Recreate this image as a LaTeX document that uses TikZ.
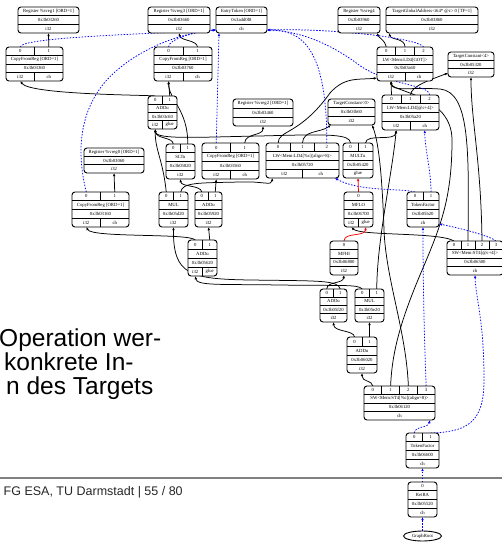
\documentclass[tikz,border=0pt]{standalone}
\usepackage{fontspec}
\usetikzlibrary{arrows.meta,calc,shapes.geometric}
\newfontfamily\gvfont{Liberation Serif}
\newfontfamily\slidefont{Liberation Sans}
\pgfdeclarelayer{edges}
\pgfsetlayers{edges,main}
\tikzset{
  recbox/.style={draw,line width=0.9pt,rounded corners=3pt,fill=white,inner sep=0pt,outer sep=0pt},
  recline/.style={line width=0.55pt},
  rectext/.style={inner sep=0pt,font=\gvfont\fontsize{4.7}{5}\selectfont},
  dataE/.style={line width=0.75pt,-{Latex[length=3.2pt,width=2.6pt]}},
  chainE/.style={dataE,blue,dash pattern=on 1.5pt off 1.5pt},
  glueE/.style={dataE,red},
  slidetext/.style={anchor=base west,inner sep=0pt,font=\slidefont\fontsize{24.5}{28}\selectfont}
}
\newcount\recCnt
\newcommand\rec[9]{%
  \pgfmathsetmacro\recW{#4-#2}%
  \pgfmathsetmacro\recH{#5-#3}%
  \ifnum#6>0 \def\recRows{4}\def\recLab{1}\else\def\recRows{3}\def\recLab{0}\fi
  \pgfmathsetmacro\recR{\recH/\recRows}%
  \pgfmathtruncatemacro\recRm{\recRows-1}%
  \node[recbox,minimum width=\recW pt,minimum height=\recH pt] (#1) at ({(#2+#4)/2},{(#3+#5)/2}) {};
  \foreach \j in {1,...,\recRm}{\draw[recline] (#2,{#3+\j*\recR}) -- (#4,{#3+\j*\recR});}
  \node[rectext] at ({(#2+#4)/2},{#3+(\recLab+0.5)*\recR}) {#7};
  \node[rectext] at ({(#2+#4)/2},{#3+(\recLab+1.5)*\recR}) {#8};
  \ifnum#6>0
    \pgfmathtruncatemacro\recNp{#6-1}%
    \foreach \i in {0,...,\recNp}{%
      \pgfmathsetmacro\recCx{#2+(\i+0.5)*\recW/#6}%
      \node[rectext] at (\recCx,{#3+0.5*\recR}) {\i};
      \coordinate (#1-p\i) at (\recCx,#3);
      \ifnum\i>0
        \pgfmathsetmacro\recSx{#2+\i*\recW/#6}%
        \draw[recline] (\recSx,#3) -- (\recSx,{#3+\recR});
      \fi
    }%
  \fi
  \global\recCnt=0
  \foreach \rtype in {#9}{\global\advance\recCnt by 1}%
  \edef\recNr{\the\recCnt}%
  \foreach \rtype [count=\k from 0] in {#9}{%
    \pgfmathsetmacro\recCx{#2+(\k+0.5)*\recW/\recNr}%
    \node[rectext] at (\recCx,{#5-0.5*\recR}) {\rtype};
    \coordinate (#1-r\k) at (\recCx,#5);
    \ifnum\k>0
      \pgfmathsetmacro\recSx{#2+\k*\recW/\recNr}%
      \draw[recline] (\recSx,{#5-\recR}) -- (\recSx,#5);
    \fi
  }%
}
\begin{document}
\begin{tikzpicture}[x=1pt,y=-1pt]
\useasboundingbox (0,0) rectangle (502,543);
\clip (0,0) rectangle (502,543);

% slide background content
\node[slidetext] (t1) at (-1,346) {Operation wer-};
\node[slidetext] (t2) at (4,370) {konkrete In-};
\node[slidetext] (t3) at (6,394) {n des Targets};
\node[anchor=west,inner sep=0pt,font=\slidefont\fontsize{12.5}{14}\selectfont,text=black!85] (foot) at (3.5,492) {FG ESA, TU Darmstadt | 55 / 80};

% graph nodes
\rec{R1}{18}{7}{79}{33}{0}{Register \%vreg1 [ORD=1]}{0x3b03260}{i32}
\rec{R3}{148}{7}{210}{33}{0}{Register \%vreg3 [ORD=1]}{0x3b03660}{i32}
\rec{ET}{216}{7}{267}{33}{0}{EntryToken [ORD=1]}{0x3add0f8}{ch}
\rec{R4}{338}{7}{380}{33}{0}{Register \%vreg4}{0x3b03960}{i32}
\rec{TGA}{386}{7}{478}{33}{0}{TargetGlobalAddress<i64* @c> 0 [TF=1]}{0x3b03860}{i32}
\rec{CFR1}{6}{47}{63}{81}{2}{CopyFromReg [ORD=1]}{0x3b03360}{i32,ch}
\rec{CFR3}{154}{47}{212}{81}{2}{CopyFromReg [ORD=1]}{0x3b03760}{i32,ch}
\rec{LWGOT}{377}{47}{433}{81}{3}{LW<Mem:LD4[GOT]>}{0x3b03a60}{i32,ch}
\rec{TCa}{448}{52}{494}{77}{0}{TargetConstant<4>}{0x3b05320}{i32}
\rec{ADDu1}{148}{96}{177}{129}{2}{ADDu}{0x3b03c60}{i32,glue}
\rec{R2}{233}{99}{293}{126}{0}{Register \%vreg2 [ORD=1]}{0x3b03460}{i32}
\rec{TCb}{328}{99}{375}{125}{0}{TargetConstant<0>}{0x3b03b60}{i32}
\rec{LW4}{382}{95}{439}{130}{3}{LW<Mem:LD4[@c+4]>}{0x3b05a20}{i32,ch}
\rec{R0}{84}{148}{144}{173}{0}{Register \%vreg0 [ORD=1]}{0x3b03060}{i32}
\rec{SLTu}{166}{144}{195}{179}{2}{SLTu}{0x3b05820}{i32}
\rec{CFR2}{202}{143}{259}{179}{2}{CopyFromReg [ORD=1]}{0x3b03560}{i32,ch}
\rec{LWc}{266}{143}{339}{178}{3}{LW<Mem:LD4[\%c](align=8)>}{0x3b05720}{i32,ch}
\rec{MULTu}{343}{143}{373}{178}{2}{MULTu}{0x3b05420}{glue}
\rec{CFR0}{72}{192}{129}{227}{2}{CopyFromReg [ORD=1]}{0x3b03160}{i32,ch}
\rec{MULa}{159}{192}{188}{227}{2}{MUL}{0x3b05d20}{i32}
\rec{ADDu2}{195}{192}{222}{227}{2}{ADDu}{0x3b05920}{i32}
\rec{MFLO}{344}{192}{373}{227}{1}{MFLO}{0x3b06700}{i32,glue}
\rec{TF1}{407}{192}{439}{227}{2}{TokenFactor}{0x3b05b20}{ch}
\rec{ADDu3}{188}{240}{217}{276}{2}{ADDu}{0x3b05620}{i32,glue}
\rec{MFHI}{330}{241}{358}{275}{1}{MFHI}{0x3b06800}{i32}
\rec{SW4}{447}{241}{503}{275}{4}{SW<Mem:ST4[@c+4]>}{0x3b06500}{ch}
\rec{ADDu4}{320}{289}{347}{322}{2}{ADDu}{0x3b05f20}{i32}
\rec{MULb}{355}{289}{384}{322}{2}{MUL}{0x3b05e20}{i32}
\rec{ADDu5}{347}{337}{377}{373}{2}{ADDu}{0x3b06020}{i32}
\rec{SWc}{364}{386}{435}{420}{4}{SW<Mem:ST4[\%c](align=8)>}{0x3b06120}{ch}
\rec{TF2}{406}{433}{439}{468}{2}{TokenFactor}{0x3b06600}{ch}
\rec{RetRA}{408}{482}{437}{517}{1}{RetRA}{0x3b05520}{ch}
\node[draw,line width=0.9pt,fill=white,ellipse,minimum width=38pt,minimum height=10pt,inner sep=0pt,font=\gvfont\fontsize{4.7}{5}\selectfont] (GR) at (422.5,536) {GraphRoot};

\coordinate (ETl) at ($(ET.south west)+(0,-3)$);
\coordinate (ETr) at ($(ET.south east)+(0,-3)$);

\begin{pgfonlayer}{edges}
\draw[line width=1.4pt,black!50] (0,478) -- (502,478);
% data edges
\draw[dataE] (CFR1-p1) -- (R1-r0);
\draw[dataE] (CFR3-p1) .. controls (197,40) and (181,41) .. (R3-r0);
\draw[dataE] (CFR0-p1) -- (R0-r0);
\draw[dataE] (ADDu1-p0) .. controls (152,95) and (30,95) .. (CFR1-r0);
\draw[dataE] (ADDu1-p1) -- (CFR3-r0);
\draw[dataE] (SLTu-p1) .. controls (188,110) and (169,100) .. (CFR3-r0);
\draw[dataE] (SLTu-p0) .. controls (173,137) and (156,139) .. (ADDu1-r0);
\draw[dataE] (MULa-p0) .. controls (163,160) and (155,150) .. (ADDu1-r0);
\draw[dataE] (MULTu-p0) .. controls (350,134) and (330,134) .. (260,136) .. controls (200,137) and (156,140) .. (ADDu1-r0);
\draw[dataE] (MULTu-p1) .. controls (366,133) and (395,142) .. (LW4-r0);
\draw[dataE] (CFR2-p1) .. controls (245,133) and (263,136) .. (R2-r0);
\draw[dataE] (ADDu2-p0) .. controls (201,185) and (181,187) .. (SLTu-r0);
\draw[dataE] (ADDu2-p1) -- (CFR2-r0);
\draw[dataE] (MULa-p1) .. controls (182,182) and (200,183) .. (240,182) .. controls (262,181) and (272,186) .. ($(LWc-r0)+(-12,0)$);
\draw[dataE] (ADDu3-p0) .. controls (190,233) and (92,238) .. (CFR0-r0);
\draw[dataE] (ADDu3-p1) -- (ADDu2-r0);
\draw[dataE] (ADDu4-p0) .. controls (327,281) and (343,284) .. (MFHI-r0);
\draw[dataE] (ADDu4-p1) .. controls (338,280) and (320,281) .. (250,280) .. controls (190,279) and (173,275) .. (MULa-r0);
\draw[dataE] (MULb-p0) .. controls (358,284) and (340,286) .. (280,285) .. controls (220,284) and (197,286) .. (ADDu3-r0);
\draw[dataE] (MULb-p1) .. controls (377,240) and (392,175) .. (LW4-r0);
\draw[dataE] (ADDu5-p0) .. controls (354,330) and (334,332) .. (ADDu4-r0);
\draw[dataE] (ADDu5-p1) -- (MULb-r0);
\draw[dataE] (SWc-p0) .. controls (372,380) and (362,382) .. (ADDu5-r0);
\draw[dataE] (SWc-p1) .. controls (392,350) and (402,318) .. (420,275) .. controls (440,228) and (452,200) .. (452,140) .. controls (452,95) and (392,92) .. (LWGOT-r0);
\draw[dataE] (SWc-p2) .. controls (406,330) and (386,280) .. (384,230) .. controls (382,170) and (378,140) .. ($(TCb.south east)+(-3,0)$);
\draw[dataE] (LWc-p0) .. controls (278,130) and (300,135) .. (330,93) .. controls (345,76) and (360,80) .. ($(LWGOT.south west)+(0,-3)$);
\draw[dataE] (LWc-p1) .. controls (303,130) and (320,133) .. ($(TCb.south west)+(3,0)$);
\draw[dataE] (LW4-p0) -- (LWGOT-r0);
\draw[dataE] (LW4-p1) .. controls (411,86) and (430,80) .. ($(TCa.south west)+(0,-4)$);
\draw[dataE] (LWGOT-p0) .. controls (385,40) and (379,38) .. ($(R4.south east)+(-3,0)$);
\draw[dataE] (LWGOT-p1) .. controls (405,38) and (391,40) .. ($(TGA.south west)+(3,0)$);
\draw[dataE] (SW4-p0) .. controls (440,232) and (360,236) .. (MFLO-r0);
\draw[dataE] (SW4-p1) .. controls (469,150) and (470,92) .. (440,89) .. controls (410,87) and (392,92) .. (LWGOT-r0);
\draw[dataE] (SW4-p2) .. controls (481,160) and (471,120) .. (TCa-r0);
% glue edges
\draw[glueE] (MFLO-p0) -- (MULTu-r0);
\draw[glueE] (MFHI-p0) .. controls (344,232) and (365,237) .. (MFLO-r1);
% chain edges
\draw[chainE] (CFR1-p0) .. controls (21,37) and (150,34) .. (ETl);
\draw[chainE] (CFR3-p0) .. controls (169,38) and (200,31) .. (ETl);
\draw[chainE] (CFR0-p0) .. controls (76,150) and (80,112) .. (105,82) .. controls (135,48) and (185,32) .. (ETl);
\draw[chainE] (CFR2-p0) -- ($(ET.south west)+(3,0)$);
\draw[chainE] (LWc-p2) .. controls (327,45) and (300,30) .. (ETr);
\draw[chainE] (LWGOT-p2) .. controls (418,38) and (330,28) .. (ETr);
\draw[chainE] (LW4-p2) .. controls (430,84) and (385,86) .. (355,62) .. controls (330,44) and (300,31) .. (ETr);
\draw[chainE] (TF1-p0) .. controls (400,188) and (360,192) .. ($(LWc-r1)+(14,0)$);
\draw[chainE] (TF1-p1) .. controls (431,170) and (425,150) .. (LW4-r1);
\draw[chainE] (SW4-p3) .. controls (490,236) and (460,228) .. ($(TF1.south east)+(0,-3)$);
\draw[chainE] (SWc-p3) .. controls (424,330) and (423,280) .. (TF1-r0);
\draw[chainE] (TF2-p0) .. controls (415,426) and (428,428) .. ($(SWc.south east)+(-5,0)$);
\draw[chainE] (TF2-p1) .. controls (470,432) and (484,420) .. (484,380) .. controls (484,320) and (476,300) .. (SW4-r0);
\draw[chainE] (RetRA-p0) -- (TF2-r0);
\draw[chainE] (GR) -- (RetRA-r0);
\end{pgfonlayer}
\end{tikzpicture}
\end{document}
